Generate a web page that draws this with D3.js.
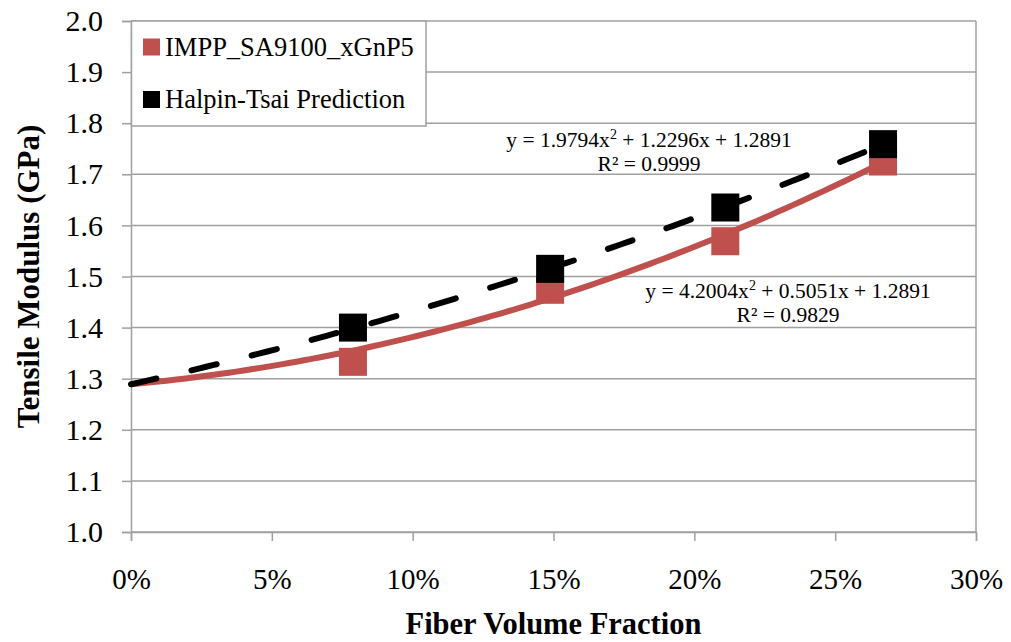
<!DOCTYPE html>
<html>
<head>
<meta charset="utf-8">
<script src="https://cdn.jsdelivr.net/npm/d3@7"></script>
<style>
  html, body { margin: 0; padding: 0; background: #fff; }
  svg { display: block; }
  text { font-family: "Liberation Serif", "Times New Roman", serif; fill: #000; }
</style>
</head>
<body>
<svg id="chart" width="1011" height="642"></svg>
<script>
// ---- data ----
const fiberFraction = [0.0788, 0.1488, 0.211, 0.267];
const measuredModulus = [1.333, 1.474, 1.569, 1.725];
const halpinTsaiModulus = [1.400, 1.515, 1.635, 1.759];
const seriesNames = ["IMPP_SA9100_xGnP5", "Halpin-Tsai Prediction"];
const measuredFitCoef = [4.2004, 0.5051, 1.2891];   // a, b, c of y = a x^2 + b x + c
const halpinFitCoef = [1.9794, 1.2296, 1.2891];
const measuredFitLabel = ["4.2004", "0.5051", "1.2891", "0.9829"];
const halpinFitLabel = ["1.9794", "1.2296", "1.2891", "0.9999"];
const xTicks = [0, 0.05, 0.10, 0.15, 0.20, 0.25, 0.30];
const yTicks = [1.0, 1.1, 1.2, 1.3, 1.4, 1.5, 1.6, 1.7, 1.8, 1.9, 2.0];
const xTitle = "Fiber Volume Fraction";
const yTitle = "Tensile Modulus (GPa)";

(function () {
// ---- layout ----
const svg = d3.select("#chart");
const pl = 131, pr = 976, pt = 21, pb = 532;
const x = d3.scaleLinear().domain([0, 0.30]).range([pl, pr]);
const y = d3.scaleLinear().domain([1.0, 2.0]).range([pb, pt]);
const gridColor = "#a0a0a0";
const red = "#c0504d";

// gridlines
svg.append("g").selectAll("line").data(yTicks).join("line")
  .attr("x1", pl).attr("x2", pr)
  .attr("y1", d => y(d)).attr("y2", d => y(d))
  .attr("stroke", gridColor).attr("stroke-width", 1.5);

// right border
svg.append("line").attr("x1", pr).attr("x2", pr).attr("y1", pt).attr("y2", pb)
  .attr("stroke", gridColor).attr("stroke-width", 1.5);

// y axis
const yAxis = d3.axisLeft(y).tickValues(yTicks).tickSize(9).tickPadding(19)
  .tickFormat(d3.format(".1f"));
const gy = svg.append("g").attr("transform", `translate(${pl},0)`).call(yAxis);
gy.select(".domain").attr("stroke", gridColor).attr("stroke-width", 1.5);
gy.selectAll(".tick line").attr("stroke", gridColor).attr("stroke-width", 1.5);
gy.selectAll(".tick text").attr("font-size", 30).attr("font-family", "Liberation Serif").attr("fill", "#000");

// x axis
const xAxis = d3.axisBottom(x).tickValues(xTicks).tickSize(9).tickPadding(27)
  .tickFormat(d3.format(".0%"));
const gx = svg.append("g").attr("transform", `translate(0,${pb})`).call(xAxis);
gx.select(".domain").attr("stroke", gridColor).attr("stroke-width", 1.5);
gx.selectAll(".tick line").attr("stroke", gridColor).attr("stroke-width", 1.5);
gx.selectAll(".tick text").attr("font-size", 29).attr("font-family", "Liberation Serif").attr("fill", "#000");

// titles
svg.append("text").attr("x", (pl + pr) / 2).attr("y", 634)
  .attr("text-anchor", "middle").attr("font-size", 30.5).attr("font-weight", "bold").text(xTitle);
svg.append("text").attr("transform", `translate(39,${(pt + pb) / 2}) rotate(-90)`)
  .attr("text-anchor", "middle").attr("font-size", 31).attr("font-weight", "bold").text(yTitle);

// markers
const ms = 28;
svg.append("g").selectAll("rect").data(fiberFraction).join("rect")
  .attr("x", (d) => x(d) - ms / 2).attr("y", (d, i) => y(measuredModulus[i]) - ms / 2)
  .attr("width", ms).attr("height", ms).attr("fill", red);
svg.append("g").selectAll("rect").data(fiberFraction).join("rect")
  .attr("x", (d) => x(d) - ms / 2).attr("y", (d, i) => y(halpinTsaiModulus[i]) - ms / 2)
  .attr("width", ms).attr("height", ms).attr("fill", "#000");

// trendlines (polynomial fits with the displayed coefficients)
const xEnd = d3.max(fiberFraction);
const xs = d3.range(0, 101).map(i => xEnd * i / 100);
const poly = c => v => c[0] * v * v + c[1] * v + c[2];
const line = d3.line().x(d => x(d[0])).y(d => y(d[1]));
svg.append("path").attr("d", line(xs.map(v => [v, poly(measuredFitCoef)(v)])))
  .attr("fill", "none").attr("stroke", red).attr("stroke-width", 6);
svg.append("path").attr("d", line(xs.map(v => [v, poly(halpinFitCoef)(v)])))
  .attr("fill", "none").attr("stroke", "#000").attr("stroke-width", 6)
  .attr("stroke-dasharray", "26,36").attr("stroke-linecap", "round");

// equation labels
function equation(cx, y1, labels) {
  const t = svg.append("text").attr("x", cx).attr("y", y1).attr("text-anchor", "middle").attr("font-size", 21.5);
  t.append("tspan").text(`y = ${labels[0]}x`);
  t.append("tspan").attr("font-size", 14).attr("dy", -8).text("2");
  t.append("tspan").attr("dy", 8).text(` + ${labels[1]}x + ${labels[2]}`);
  svg.append("text").attr("x", cx).attr("y", y1 + 24).attr("text-anchor", "middle").attr("font-size", 21.5)
    .text(`R² = ${labels[3]}`);
}
equation(649, 147, halpinFitLabel);
equation(788, 298, measuredFitLabel);

// legend
const lg = svg.append("g");
lg.append("rect").attr("x", 131.5).attr("y", 21).attr("width", 294.5).attr("height", 105)
  .attr("fill", "#fff").attr("stroke", gridColor).attr("stroke-width", 1.5);
const legendColors = [red, "#000"];
seriesNames.forEach((name, i) => {
  const cy = 47 + i * 52.5;
  lg.append("rect").attr("x", 143).attr("y", cy - 8.5).attr("width", 17).attr("height", 17).attr("fill", legendColors[i]);
  lg.append("text").attr("x", 165).attr("y", cy + 8.5).attr("font-size", 26.5).text(name);
});
})();
</script>
</body>
</html>
